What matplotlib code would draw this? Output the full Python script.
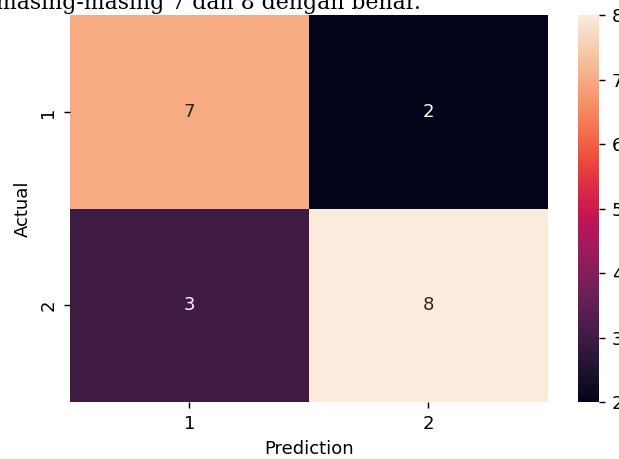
import matplotlib
matplotlib.use("Agg")
import matplotlib.pyplot as plt
import numpy as np
import seaborn as sns

# confusion matrix values
labels = [1, 2]
matrix = np.array([[7, 2],
                   [3, 8]])
caption = "masing-masing 7 dan 8 dengan benar."

DPI = 130
fig = plt.figure(figsize=(619 / DPI, 459 / DPI), dpi=DPI)
ax = fig.add_axes([0.113, 0.124, 0.772, 0.843])
cax = fig.add_axes([0.934, 0.124, 0.034, 0.843])

sns.heatmap(matrix, annot=True, fmt="d", ax=ax, cbar_ax=cax,
            xticklabels=labels, yticklabels=labels)
ax.set_xlabel("Prediction")
ax.set_ylabel("Actual")
ax.tick_params(axis="y", rotation=90)

# leftover line of document text above the plot
fig.text(-4 / 619, 1 - 9.5 / 459, caption, family="DejaVu Serif",
         fontsize=22 / DPI * 72, va="baseline", ha="left")

fig.savefig("out.png", dpi=DPI)
